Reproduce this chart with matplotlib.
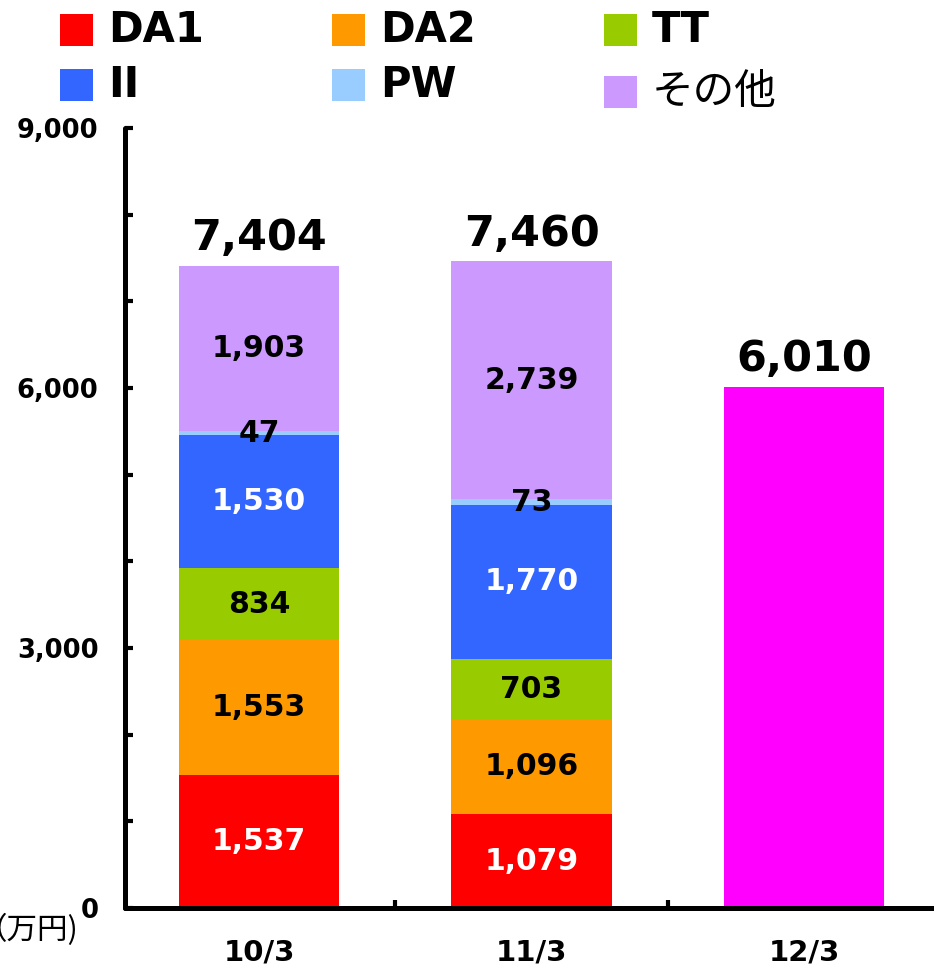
import matplotlib
matplotlib.use("Agg")
import matplotlib.pyplot as plt
from matplotlib.patches import Rectangle

# data (unit: 万円)
periods = ["10/3", "11/3", "12/3"]
series_names = ["DA1", "DA2", "TT", "II", "PW", "その他"]
da1 = [1537, 1079]
da2 = [1553, 1096]
tt = [834, 703]
ii = [1530, 1770]
pw = [47, 73]
other = [1903, 2739]
forecast_total = 6010  # 12/3, single bar

series_values = [da1, da2, tt, ii, pw, other]
series_colors = ["#FF0000", "#FF9900", "#99CC00", "#3366FF", "#99CCFF", "#CC99FF"]
label_colors = ["white", "black", "black", "white", "black", "black"]
forecast_color = "#FF00FF"

FONTS = ["DejaVu Sans", "Noto Sans CJK JP"]
plt.rcParams["font.family"] = FONTS

W, H = 934, 965
fig = plt.figure(figsize=(W / 100, H / 100), dpi=100)
ax = fig.add_axes([125 / W, 57 / H, (W - 125) / W, 780 / H])

x = list(range(len(periods)))
bar_w = 0.59
n_stacked = len(da1)

bottoms = [0] * n_stacked
for vals, col, lcol in zip(series_values, series_colors, label_colors):
    ax.bar(x[:n_stacked], vals, bottom=bottoms, width=bar_w, color=col,
           linewidth=0, zorder=2)
    for i, v in enumerate(vals):
        ax.text(x[i], bottoms[i] + v / 2, f"{v:,}", ha="center", va="center",
                color=lcol, fontsize=21.5, fontweight="bold", zorder=3)
    bottoms = [b + v for b, v in zip(bottoms, vals)]

ax.bar(x[n_stacked], forecast_total, width=bar_w, color=forecast_color,
       linewidth=0, zorder=2)

totals = bottoms + [forecast_total]
for xi, t in zip(x, totals):
    ax.annotate(f"{t:,}", (xi, t), xytext=(0, 5), textcoords="offset points",
                ha="center", va="bottom", fontsize=31, fontweight="bold")

# axes styling
ax.set_xlim(-0.492, 2.477)
ax.set_ylim(0, 9000)
for s in ["top", "right"]:
    ax.spines[s].set_visible(False)
for s in ["left", "bottom"]:
    ax.spines[s].set_linewidth(3.6)
    ax.spines[s].set_capstyle("round")
    ax.spines[s].set_zorder(4)

ax.set_yticks(range(0, 9001, 1000))
ax.set_yticklabels([f"{v:,}" if v % 3000 == 0 else "" for v in range(0, 9001, 1000)])
ax.tick_params(axis="y", direction="in", length=6, width=3, pad=19,
               labelsize=18.5)
for lbl in ax.get_yticklabels():
    lbl.set_fontweight("bold")

ax.set_xticks(x)
ax.set_xticklabels(periods, fontsize=21, fontweight="bold")
ax.set_xticks([0.5, 1.5], minor=True)
ax.tick_params(axis="x", which="major", length=0, pad=22)
ax.tick_params(axis="x", which="minor", direction="in", length=6, width=3)
for t in ax.yaxis.get_major_ticks() + ax.xaxis.get_minor_ticks():
    t.tick1line.set_solid_capstyle("round")

# unit label, partly clipped at the left edge as in the reference
fig.text(79 / W, 1 - 930 / H, "（万円)", ha="right", va="center",
         fontsize=22, family=["Noto Sans CJK JP"])

# legend: 2 rows x 3 columns
for i, (name, col) in enumerate(zip(series_names, series_colors)):
    row, c = divmod(i, 3)
    x0 = 60 + 272 * c
    y0 = 14 + 55 * row + (7 if name == "その他" else 0)
    fig.add_artist(Rectangle((x0 / W, 1 - (y0 + 32) / H), 33 / W, 32 / H,
                             transform=fig.transFigure, color=col, lw=0))
    fig.text((x0 + 48) / W, 1 - (y0 + 16) / H, name, ha="left", va="center",
             fontsize=30, fontweight="normal" if name == "その他" else "bold")

fig.savefig("out.png", dpi=100)
